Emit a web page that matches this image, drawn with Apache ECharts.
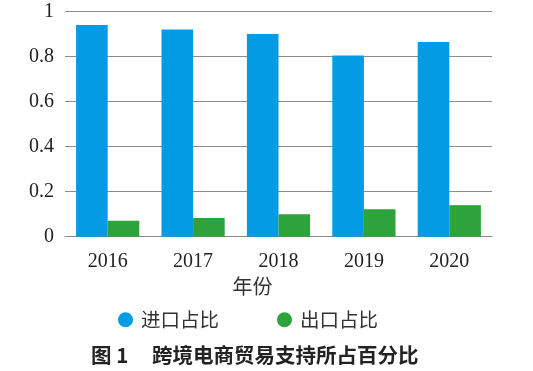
<!DOCTYPE html>
<html>
<head>
<meta charset="utf-8">
<script src="https://cdn.jsdelivr.net/npm/echarts@6/dist/echarts.min.js"></script>
<style>
html,body{margin:0;padding:0;background:#fff;}
#c{width:533px;height:371px;}
</style>
</head>
<body>
<div id="c"></div>
<script>
const years = ['2016', '2017', '2018', '2019', '2020'];
const importShare = [0.94, 0.92, 0.90, 0.805, 0.865];
const exportShare = [0.071, 0.083, 0.10, 0.122, 0.14];
const seriesNames = ['进口占比', '出口占比'];
const yTicks = { min: 0, max: 1, interval: 0.2 };

const serif = '"Liberation Serif", "Times New Roman", serif';
const cjk = '"Noto Sans CJK SC", sans-serif';

const chart = echarts.init(document.getElementById('c'), null, { renderer: 'canvas' });
chart.setOption({
  animation: false,
  backgroundColor: '#fff',
  title: [
    { text: '图 1', left: 86, top: 340, textStyle: { fontFamily: cjk, fontSize: 20.5, fontWeight: 'bold', color: '#222' } },
    { text: '跨境电商贸易支持所占百分比', left: 147, top: 340, textStyle: { fontFamily: cjk, fontSize: 20.5, fontWeight: 'bold', color: '#222' } }
  ],
  grid: { left: 65, right: 41, top: 11.5, bottom: 134.3, containLabel: false },
  legend: {
    data: seriesNames,
    left: 113,
    top: 305,
    icon: 'circle',
    itemWidth: 15,
    itemHeight: 15,
    itemGap: 58,
    textStyle: { fontFamily: cjk, fontSize: 19.5, color: '#333', padding: [0, 0, 0, 3] }
  },
  xAxis: {
    type: 'category',
    data: years,
    name: '年份',
    nameLocation: 'middle',
    nameGap: 39,
    nameTextStyle: { fontFamily: cjk, fontSize: 20, color: '#333', padding: [0, 52, 0, 0] },
    axisTick: { show: false },
    axisLine: { show: true, lineStyle: { color: '#8c8c8c', width: 1 } },
    axisLabel: { fontFamily: serif, fontSize: 20, color: '#222', margin: 15 }
  },
  yAxis: {
    type: 'value',
    min: yTicks.min,
    max: yTicks.max,
    interval: yTicks.interval,
    axisLine: { show: false },
    axisTick: { show: false },
    axisLabel: { fontFamily: serif, fontSize: 20, color: '#222', margin: 11 },
    splitLine: { lineStyle: { color: '#8c8c8c', width: 1 } }
  },
  series: [
    { name: seriesNames[0], type: 'bar', data: importShare, barGap: '0%', barCategoryGap: '26%', itemStyle: { color: '#039be3' } },
    { name: seriesNames[1], type: 'bar', data: exportShare, barGap: '0%', barCategoryGap: '26%', itemStyle: { color: '#2ea23b' } }
  ]
});
</script>
</body>
</html>
